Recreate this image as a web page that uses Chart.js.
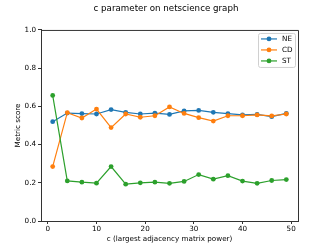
<!DOCTYPE html>
<html>
<head>
<meta charset="utf-8">
<script src="https://cdn.jsdelivr.net/npm/chart.js@4.4.1/dist/chart.umd.min.js"></script>
<style>
  html, body { margin: 0; padding: 0; background: #fff; }
  canvas { display: block; }
</style>
</head>
<body>
<canvas id="chart" width="332" height="249"></canvas>
<script>
// c values (largest adjacency matrix power)
const cValues = [1, 4, 7, 10, 13, 16, 19, 22, 25, 28, 31, 34, 37, 40, 43, 46, 49];

const neScores = [0.520, 0.565, 0.562, 0.560, 0.583, 0.569, 0.560, 0.565, 0.558,
                  0.576, 0.579, 0.569, 0.562, 0.555, 0.558, 0.546, 0.563];
const cdScores = [0.285, 0.567, 0.539, 0.586, 0.489, 0.560, 0.543, 0.551, 0.597,
                  0.563, 0.541, 0.523, 0.551, 0.551, 0.555, 0.550, 0.560];
const stScores = [0.657, 0.210, 0.203, 0.198, 0.285, 0.193, 0.200, 0.203, 0.197,
                  0.207, 0.243, 0.219, 0.237, 0.209, 0.197, 0.212, 0.217];

const seriesNames = ['NE', 'CD', 'ST'];
const seriesColors = ['#1f77b4', '#ff7f0e', '#2ca02c'];

const xTicks = [0, 10, 20, 30, 40, 50];
const yTicks = [0.0, 0.2, 0.4, 0.6, 0.8, 1.0];

const FONT = 'DejaVu Sans';

function toPoints(values) {
    return values.map((v, i) => ({ x: cValues[i], y: v }));
}

// matplotlib style box: top and right spines
const frameBox = {
    id: 'frameBox',
    afterDraw(chart) {
        const { ctx, chartArea: a } = chart;
        ctx.save();
        ctx.strokeStyle = '#333';
        ctx.lineWidth = 1;
        ctx.beginPath();
        ctx.moveTo(a.left, a.top + 0.5);
        ctx.lineTo(a.right + 0.5, a.top + 0.5);
        ctx.lineTo(a.right + 0.5, a.bottom);
        ctx.stroke();
        ctx.restore();
    }
};

// legend box in the upper right corner of the plot
const cornerLegend = {
    id: 'cornerLegend',
    afterDatasetsDraw(chart) {
        const { ctx, chartArea: a } = chart;
        const boxW = 37, boxH = 34;
        const x0 = a.right - 3 - boxW, y0 = a.top + 3;
        ctx.save();
        ctx.fillStyle = 'rgba(255,255,255,0.85)';
        ctx.strokeStyle = '#d0d0d0';
        ctx.lineWidth = 1;
        ctx.beginPath();
        ctx.roundRect(x0 + 0.5, y0 + 0.5, boxW, boxH, 2);
        ctx.fill();
        ctx.stroke();

        chart.data.datasets.forEach((ds, i) => {
            const y = y0 + 6 + i * 11;
            ctx.strokeStyle = ds.borderColor;
            ctx.lineWidth = 1.2;
            ctx.beginPath();
            ctx.moveTo(x0 + 3, y);
            ctx.lineTo(x0 + 19, y);
            ctx.stroke();
            ctx.fillStyle = ds.borderColor;
            ctx.beginPath();
            ctx.arc(x0 + 11, y, 2.4, 0, Math.PI * 2);
            ctx.fill();
            ctx.fillStyle = '#000';
            ctx.font = `7.2px "${FONT}"`;
            ctx.textBaseline = 'middle';
            ctx.textAlign = 'left';
            ctx.fillText(ds.label, x0 + 24, y + 0.5);
        });
        ctx.restore();
    }
};

const datasets = [neScores, cdScores, stScores].map((values, i) => ({
    label: seriesNames[i],
    data: toPoints(values),
    borderColor: seriesColors[i],
    backgroundColor: seriesColors[i],
    borderWidth: 1.2,
    pointRadius: 2.4,
    pointBorderWidth: 0,
    pointHoverRadius: 2.4,
    tension: 0,
    order: 3 - i
}));

new Chart(document.getElementById('chart'), {
    type: 'line',
    data: { datasets },
    plugins: [frameBox, cornerLegend],
    options: {
        responsive: false,
        animation: false,
        events: [],
        layout: { padding: 0 },
        plugins: {
            legend: { display: false },
            tooltip: { enabled: false },
            title: {
                display: true,
                text: 'c parameter on netscience graph',
                color: '#000',
                font: { family: FONT, size: 8.7, weight: 'normal', lineHeight: 1.2 },
                padding: { top: 4, bottom: 15.5 }
            }
        },
        scales: {
            x: {
                type: 'linear',
                min: -1.4,
                max: 51.4,
                afterFit(scale) { scale.height = 28; },
                afterBuildTicks(scale) { scale.ticks = xTicks.map(v => ({ value: v })); },
                grid: { drawOnChartArea: false, tickLength: 3, color: '#333' },
                border: { display: true, color: '#333', width: 1 },
                ticks: {
                    color: '#000',
                    padding: 1,
                    maxRotation: 0,
                    font: { family: FONT, size: 7.2 },
                    callback: v => String(v)
                },
                title: {
                    display: true,
                    text: 'c (largest adjacency matrix power)',
                    color: '#000',
                    font: { family: FONT, size: 7.2, lineHeight: 1.2 },
                    padding: { top: 0, bottom: 5.7 }
                }
            },
            y: {
                min: 0,
                max: 1,
                afterFit(scale) { scale.width = 41; },
                afterBuildTicks(scale) { scale.ticks = yTicks.map(v => ({ value: v })); },
                grid: { drawOnChartArea: false, tickLength: 3, color: '#333' },
                border: { display: true, color: '#333', width: 1 },
                ticks: {
                    color: '#000',
                    padding: 2,
                    font: { family: FONT, size: 7.2 },
                    callback: v => v.toFixed(1)
                },
                title: {
                    display: true,
                    text: 'Metric score',
                    color: '#000',
                    font: { family: FONT, size: 7.2, lineHeight: 1.2 },
                    padding: { top: 13.7, bottom: 0 }
                }
            },
            // empty right margin so the title stays centred on the whole figure
            yRight: {
                position: 'right',
                min: 0,
                max: 1,
                afterFit(scale) { scale.width = 34; },
                grid: { display: false },
                border: { display: false },
                ticks: { display: false }
            }
        }
    }
});
</script>
</body>
</html>
